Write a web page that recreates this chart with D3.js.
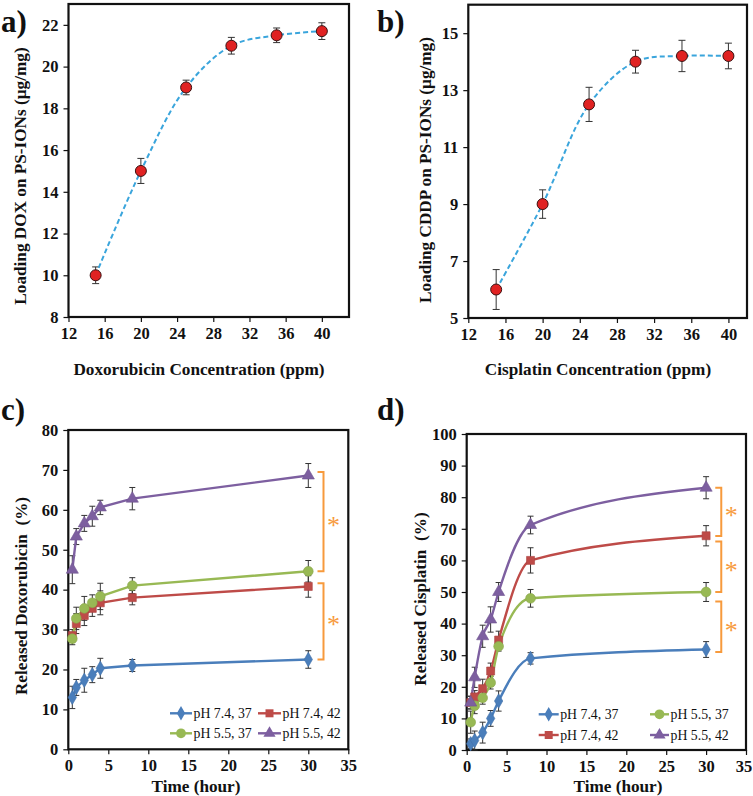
<!DOCTYPE html>
<html><head><meta charset="utf-8">
<script src="https://cdn.jsdelivr.net/npm/d3@7"></script>
<style>
html,body{margin:0;padding:0;background:#fff;}
svg{display:block;color:#111;}
text{font-family:"Liberation Serif","Times New Roman",serif;font-weight:bold;}
</style></head>
<body>
<svg id="chart" width="753" height="796"></svg>
<script>
// ---------- DATA ----------
const concDox = [15, 20, 25, 30, 35, 40];
const loadDox = [10, 15, 19, 21, 21.5, 21.7];
const loadDoxErr = [0.4, 0.6, 0.35, 0.4, 0.35, 0.4];
const concCis = [15, 20, 25, 30, 35, 40];
const loadCis = [6, 9, 12.5, 14, 14.2, 14.2];
const loadCisErr = [0.7, 0.5, 0.6, 0.4, 0.55, 0.45];
const ticksA_x = [12, 16, 20, 24, 28, 32, 36, 40];
const ticksA_y = [8, 10, 12, 14, 16, 18, 20, 22];
const ticksB_y = [5, 7, 9, 11, 13, 15];
const timeH = [0.5, 1, 2, 3, 4, 8, 30];
const ticksT_x = [0, 5, 10, 15, 20, 25, 30, 35];
const ticksC_y = [0, 10, 20, 30, 40, 50, 60, 70, 80];
const ticksD_y = [0, 10, 20, 30, 40, 50, 60, 70, 80, 90, 100];
const seriesNames = ["pH 7.4, 37", "pH 7.4, 42", "pH 5.5, 37", "pH 5.5, 42"];
const doxRel = [
  [13, 15.5, 17.3, 18.7, 20.3, 21, 22.5],
  [28.5, 31.5, 33.5, 35.3, 36.7, 38, 40.8],
  [27.7, 32.8, 35.3, 36.7, 38.3, 41, 44.6],
  [45, 53.3, 56.6, 58.4, 60.6, 62.8, 68.6]
];
const doxRelErr = [
  [2.8, 2, 3, 2, 2.5, 1.5, 2.2],
  [1.5, 2.5, 2.5, 2, 3, 1.8, 2.7],
  [1.5, 2.8, 3, 2, 3.3, 2, 2.7],
  [3.5, 2, 2, 2.5, 1.8, 2.8, 3]
];
const cisRel = [
  [2, 3, 5.5, 10, 15.5, 29, 31.8],
  [15, 16.8, 19.4, 25, 34.8, 60, 67.8],
  [8.8, 14, 16.5, 21.3, 32.8, 48, 50],
  [15, 23, 36, 41.3, 50, 71.2, 83]
];
const cisRelErr = [
  [1.5, 3, 3.3, 2.5, 3.2, 1.8, 2.5],
  [2, 2, 3, 2.5, 2.8, 4, 3.2],
  [3.5, 2.5, 2, 2, 1.5, 2.8, 3],
  [2, 3.2, 3.5, 4, 3, 2.8, 3.5]
];
const bracketsC = [[69.5, 44.6], [41.6, 22.5]];
const bracketsD = [[83, 67.7], [66, 50], [47, 31]];

// ---------- STYLE ----------
const colors = ["#4A7EBB", "#BE4B48", "#98B954", "#7D5FA0"];
const symbols = [d3.symbolDiamond, d3.symbolSquare, d3.symbolCircle, d3.symbolTriangle];
const symSizes = [60, 64, 75, 64];
const orange = "#F79A3C";
const svg = d3.select("#chart");

function panel(o) {
  const g = svg.append("g");
  const x = d3.scaleLinear().domain(o.xd).range([o.l, o.r]);
  const y = d3.scaleLinear().domain(o.yd).range([o.b, o.t]);
  const xa = g.append("g").attr("transform", `translate(0,${o.b})`)
    .call(d3.axisBottom(x).tickValues(o.xt).tickSize(5).tickPadding(5).tickFormat(d3.format("d")));
  const ya = g.append("g").attr("transform", `translate(${o.l},0)`)
    .call(d3.axisLeft(y).tickValues(o.yt).tickSize(5).tickPadding(5).tickFormat(d3.format("d")));
  [xa, ya].forEach(a => {
    a.select(".domain").remove();
    a.selectAll("line").attr("stroke", "#111").attr("stroke-width", 1.2);
    a.selectAll("text").style("font-size", o.tickFs + "px").attr("fill", "#111");
  });
  if (o.lastDx) xa.selectAll("text").filter((d, i, n) => i === n.length - 1).attr("dx", o.lastDx);
  g.append("rect").attr("x", o.l).attr("y", o.t).attr("width", o.r - o.l).attr("height", o.b - o.t)
    .attr("fill", "none").attr("stroke", "#111").attr("stroke-width", 2.2);
  g.append("text").attr("x", o.xtx).attr("y", o.xty).attr("text-anchor", "middle").attr("fill", "#111")
    .style("font-size", o.titleFs + "px").text(o.xTitle);
  g.append("text").attr("transform", `translate(${o.ytx},${o.yty}) rotate(-90)`).attr("text-anchor", "middle")
    .attr("dy", "0.35em").attr("fill", "#111").style("font-size", o.titleFs + "px").style("white-space", "pre").text(o.yTitle);
  g.append("text").attr("x", o.lx).attr("y", o.ly).attr("fill", "#111").style("font-size", "31px").text(o.label);
  return {g, x, y};
}

function errBars(g, x, y, xs, ys, es, cap, col, w) {
  xs.forEach((xv, i) => {
    const px = x(xv), y1 = y(ys[i] - es[i]), y2 = y(ys[i] + es[i]);
    g.append("line").attr("x1", px).attr("x2", px).attr("y1", y1).attr("y2", y2).attr("stroke", col).attr("stroke-width", w);
    [y1, y2].forEach(yy => g.append("line").attr("x1", px - cap).attr("x2", px + cap).attr("y1", yy).attr("y2", yy)
      .attr("stroke", col).attr("stroke-width", w));
  });
}

function loadPanel(o, xs, ys, es) {
  const {g, x, y} = panel(o);
  errBars(g, x, y, xs, ys, es, 3.5, "#333", 1);
  const line = d3.line().x((d, i) => x(xs[i])).y(d => y(d)).curve(d3.curveCatmullRom.alpha(0.5));
  g.append("path").attr("d", line(ys)).attr("fill", "none").attr("stroke", "#3AA5DC")
    .attr("stroke-width", 2).attr("stroke-dasharray", "5,3");
  g.selectAll(null).data(ys).enter().append("circle")
    .attr("cx", (d, i) => x(xs[i])).attr("cy", d => y(d)).attr("r", 5.5)
    .attr("fill", "#E02222").attr("stroke", "#3a1010").attr("stroke-width", 1);
}
loadPanel({l: 68.5, r: 349, t: 4, b: 317, xd: [12, 43], yd: [8, 23], xt: ticksA_x, yt: ticksA_y,
  tickFs: 16.5, titleFs: 17.2, xTitle: "Doxorubicin Concentration (ppm)", xtx: 199, xty: 375,
  yTitle: "Loading DOX on PS-IONs (µg/mg)", ytx: 20, yty: 176, label: "a)", lx: 1, ly: 32},
  concDox, loadDox, loadDoxErr);
loadPanel({l: 468.3, r: 747, t: 4.7, b: 318, xd: [12, 42], yd: [5, 16], xt: ticksA_x, yt: ticksB_y,
  tickFs: 16.5, titleFs: 17.2, xTitle: "Cisplatin Concentration (ppm)", xtx: 598, xty: 375,
  yTitle: "Loading CDDP on PS-IONs (µg/mg)", ytx: 425, yty: 170, label: "b)", lx: 377, ly: 32},
  concCis, loadCis, loadCisErr);

function relPanel(o, data, errs, curve, brackets, legendPos) {
  const {g, x, y} = panel(o);
  data.forEach((s, k) => errBars(g, x, y, timeH, s, errs[k], 3, "#333", 1));
  data.forEach((s, k) => {
    const line = d3.line().x((d, i) => x(timeH[i])).y(d => y(d)).curve(curve);
    g.append("path").attr("d", line(s)).attr("fill", "none").attr("stroke", colors[k]).attr("stroke-width", 2.4);
  });
  data.forEach((s, k) => {
    g.selectAll(null).data(s).enter().append("path")
      .attr("d", d3.symbol().type(symbols[k]).size(symSizes[k]))
      .attr("transform", (d, i) => `translate(${x(timeH[i])},${y(d)})`)
      .attr("fill", colors[k]).attr("stroke", d3.color(colors[k]).darker(0.3)).attr("stroke-width", 0.6);
  });
  brackets.forEach(bk => {
    const bx = x(31.9), bx0 = x(31.15);
    g.append("path").attr("d", `M${bx0},${y(bk[0])}H${bx}V${y(bk[1])}H${bx0}`)
      .attr("fill", "none").attr("stroke", orange).attr("stroke-width", 2);
    g.append("text").attr("x", x(32.35)).attr("y", (y(bk[0]) + y(bk[1])) / 2 + 12)
      .style("font-size", "26px").style("font-weight", "normal").attr("fill", orange).text("*");
  });
  legendPos.forEach((p, k) => {
    g.append("line").attr("x1", p[0]).attr("x2", p[0] + p[2]).attr("y1", p[1]).attr("y2", p[1])
      .attr("stroke", colors[k]).attr("stroke-width", 2.4);
    g.append("path").attr("d", d3.symbol().type(symbols[k]).size(symSizes[k]))
      .attr("transform", `translate(${p[0] + p[2] / 2},${p[1]})`).attr("fill", colors[k]);
    g.append("text").attr("x", p[0] + p[2] + 1.5).attr("y", p[1]).attr("dy", "0.35em").attr("fill", "#111")
      .style("font-size", "13.8px").style("font-weight", "normal").text(seriesNames[k]);
  });
}
relPanel({l: 68.3, r: 348.3, t: 430, b: 749.3, xd: [0, 35], yd: [0, 80], xt: ticksT_x, yt: ticksC_y,
  tickFs: 16.5, titleFs: 17.2, xTitle: "Time (hour)", xtx: 196, xty: 792,
  yTitle: "Released Doxorubicin  (%)", ytx: 21, yty: 596, label: "c)", lx: 1, ly: 420},
  doxRel, doxRelErr, d3.curveLinear, bracketsC,
  [[170, 713.3, 22], [258, 713.3, 23], [170, 733.3, 22], [258, 733.3, 23]]);
relPanel({l: 466.7, r: 746, t: 434, b: 750, xd: [0, 35], yd: [0, 100], xt: ticksT_x, yt: ticksD_y,
  tickFs: 16.5, titleFs: 17.2, xTitle: "Time (hour)", xtx: 618, xty: 792, lastDx: -2.5,
  yTitle: "Released Cisplatin  (%)", ytx: 420, yty: 599, label: "d)", lx: 377, ly: 420},
  cisRel, cisRelErr, d3.curveMonotoneX, bracketsD,
  [[538.7, 714.3, 20], [538.7, 735, 20], [650, 714.3, 19], [650, 735, 19]]);
</script>
</body></html>
